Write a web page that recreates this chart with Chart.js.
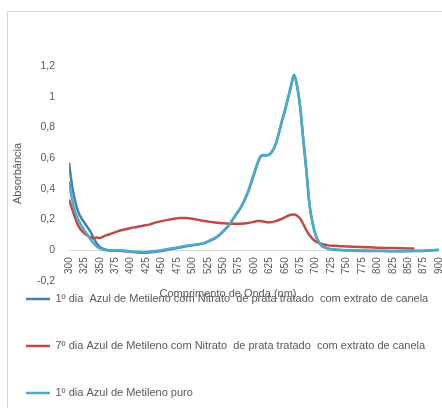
<!DOCTYPE html>
<html>
<head>
<meta charset="utf-8">
<script src="https://cdn.jsdelivr.net/npm/chart.js@4/dist/chart.umd.min.js"></script>
<style>
  html, body { margin: 0; padding: 0; background: #ffffff; }
  #wrap { position: relative; width: 442px; height: 408px; overflow: hidden; }
  #frame { position: absolute; left: 7px; top: 11px; width: 600px; height: 600px; border: 1px solid #d9d9d9; }
  #c { position: absolute; left: 0; top: 0; }
</style>
</head>
<body>
<div id="wrap">
  <div id="frame"></div>
  <canvas id="c" width="442" height="408"></canvas>
</div>
<script>
// Comprimentos de onda (nm)
const wavelengths = [
  300, 305, 310, 315, 320, 325, 330, 335, 340, 345, 350, 355, 360,
  370, 380, 390, 400, 410, 420, 430, 440, 450, 460, 470, 480, 490, 500,
  510, 520, 530, 540, 550, 560, 570, 580, 590, 600,
  605, 610, 615, 620, 625, 630, 635, 640, 645, 650, 655, 660, 665, 670,
  675, 680, 685, 690, 695, 700, 705, 710, 715, 720,
  730, 740, 750, 760,
  780, 800, 820, 840, 860, 880, 900
];

// Absorbância — 1º dia, azul de metileno com nitrato de prata tratado com extrato de canela
const dia1Nitrato = [
  0.57, 0.42, 0.32, 0.25, 0.21, 0.18, 0.15, 0.12, 0.08, 0.045, 0.022, 0.01, 0.003,
  -0.002, -0.003, -0.006, -0.01, -0.014, -0.016, -0.014, -0.009, -0.004, 0.004, 0.011, 0.018, 0.026, 0.032,
  0.038, 0.047, 0.064, 0.087, 0.122, 0.167, 0.226, 0.287, 0.376, 0.494,
  0.556, 0.606, 0.617, 0.618, 0.622, 0.646, 0.687, 0.757, 0.836, 0.906, 0.986, 1.066, 1.14, 1.065,
  0.925, 0.715, 0.515, 0.296, 0.177, 0.098, 0.053, 0.028, 0.018, 0.01,
  0.004, 0.001, -0.001, -0.002,
  -0.004, -0.005, -0.006, -0.006, -0.005, -0.003, 0.002
];

// Absorbância — 7º dia, azul de metileno com nitrato de prata tratado com extrato de canela
const dia7Nitrato = [
  0.33, 0.27, 0.21, 0.16, 0.13, 0.11, 0.095, 0.085, 0.078, 0.084, 0.08, 0.088, 0.097,
  0.11, 0.125, 0.135, 0.145, 0.152, 0.16, 0.167, 0.18, 0.19, 0.198, 0.205, 0.21, 0.21, 0.205,
  0.198, 0.19, 0.185, 0.18, 0.176, 0.173, 0.172, 0.173, 0.178, 0.185,
  0.19, 0.19, 0.187, 0.183, 0.182, 0.185, 0.19, 0.197, 0.205, 0.215, 0.225, 0.232, 0.233, 0.225,
  0.205, 0.17, 0.13, 0.1, 0.075, 0.058, 0.048, 0.041, 0.036, 0.032,
  0.029, 0.027, 0.025, 0.023,
  0.02, 0.017, 0.015, 0.013, 0.012, null, null
];

// Absorbância — 1º dia, azul de metileno puro
const dia1Puro = [
  0.45, 0.33, 0.25, 0.2, 0.16, 0.13, 0.1, 0.07, 0.045, 0.025, 0.012, 0.005, 0.0,
  -0.003, 0.0, -0.002, -0.006, -0.01, -0.012, -0.01, -0.005, 0.0, 0.008, 0.015, 0.022, 0.03, 0.035,
  0.04, 0.05, 0.068, 0.09, 0.125, 0.17, 0.23, 0.29, 0.38, 0.5,
  0.56, 0.61, 0.62, 0.62, 0.625, 0.65, 0.69, 0.76, 0.84, 0.91, 0.99, 1.07, 1.145, 1.07,
  0.93, 0.72, 0.52, 0.3, 0.18, 0.1, 0.055, 0.03, 0.02, 0.012,
  0.006, 0.003, 0.001, 0.0,
  -0.002, -0.003, -0.004, -0.004, -0.003, -0.001, 0.003
];

const seriesNames = [
  '1º dia  Azul de Metileno com Nitrato  de prata tratado  com extrato de canela',
  '7º dia Azul de Metileno com Nitrato  de prata tratado  com extrato de canela',
  '1º dia Azul de Metileno puro'
];
const seriesColors = ['#4a7ebb', '#be4b48', '#4bacc6'];

const xTitle = 'Comprimento de Onda (nm)';
const yTitle = 'Absorbância';

const toPoints = (vals) => wavelengths
  .map((w, i) => ({ x: w, y: vals[i] }))
  .filter(p => p.y !== null);

const textColor = '#595959';
Chart.defaults.font.family = "'Liberation Sans', Arial, sans-serif";
Chart.defaults.color = textColor;

// lifts the legend block so its first row sits just under the axis title,
// and lets its clip box run to the bottom of the canvas
const legendOffset = {
  id: 'legendOffset',
  afterLayout(chart) {
    const lg = chart.legend;
    if (!lg) return;
    lg.left -= 10;
    lg.top -= 23.5;
    lg.bottom = chart.height;
  }
};

const seriesList = [dia1Nitrato, dia7Nitrato, dia1Puro];

new Chart(document.getElementById('c'), {
  type: 'line',
  data: {
    datasets: seriesList.map((vals, i) => ({
      label: seriesNames[i],
      data: toPoints(vals),
      borderColor: seriesColors[i],
      backgroundColor: seriesColors[i],
      borderWidth: 2.5,
      pointRadius: 0,
      cubicInterpolationMode: 'monotone',
      fill: false,
      order: 3 - i
    }))
  },
  options: {
    responsive: false,
    animation: false,
    devicePixelRatio: 1,
    layout: { padding: { top: 66, right: 3, bottom: 0, left: 0 } },
    scales: {
      x: {
        type: 'linear',
        min: 300,
        max: 900,
        position: { y: 0 },
        grid: { display: false, drawTicks: false },
        border: { display: true, color: '#d9d9d9', width: 1 },
        ticks: {
          stepSize: 25,
          autoSkip: false,
          minRotation: 90,
          maxRotation: 90,
          padding: 7,
          color: textColor,
          font: { size: 10 }
        },
        title: {
          display: true,
          // trailing no-break spaces pull the centred title towards the left
          text: xTitle + '\u00a0'.repeat(17),
          color: textColor,
          font: { size: 11 },
          padding: { top: 6, bottom: 0 }
        },
        afterFit(s) { s.paddingLeft = 0; s.paddingRight = 0; }
      },
      y: {
        min: -0.2,
        max: 1.2,
        grid: { display: false, drawTicks: false },
        border: { display: false },
        ticks: {
          stepSize: 0.2,
          padding: 14,
          color: textColor,
          font: { size: 10.5 },
          callback: (v) => String(Math.round(v * 10) / 10).replace('.', ',')
        },
        title: {
          display: true,
          text: yTitle,
          color: textColor,
          font: { size: 11 },
          padding: { top: 11, bottom: 0 }
        },
        afterFit(s) { s.width = 69; }
      }
    },
    plugins: {
      legend: {
        position: 'bottom',
        align: 'start',
        maxHeight: 127,
        labels: {
          usePointStyle: true,
          pointStyle: 'line',
          pointStyleWidth: 24,
          padding: 36,
          color: textColor,
          font: { size: 11 },
          sort: (a, b) => a.datasetIndex - b.datasetIndex
        }
      },
      tooltip: { enabled: false }
    }
  },
  plugins: [legendOffset]
});
</script>
</body>
</html>
